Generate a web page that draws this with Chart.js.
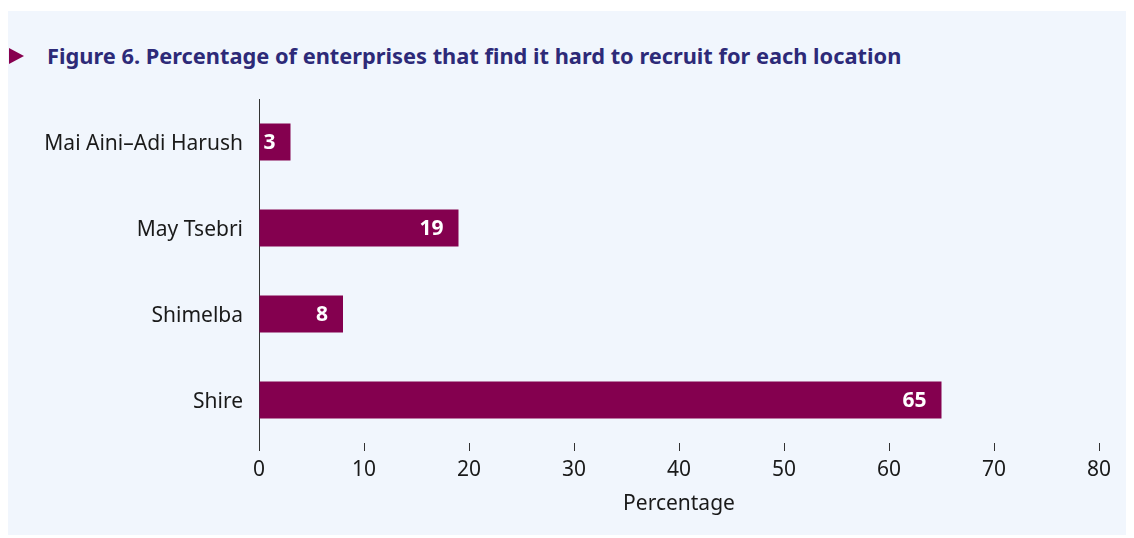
<!DOCTYPE html>
<html>
<head>
<meta charset="utf-8">
<script src="https://cdn.jsdelivr.net/npm/chart.js@4.4.0/dist/chart.umd.min.js"></script>
<style>
  html, body { margin: 0; padding: 0; background: #ffffff; }
  #panel {
    position: absolute; left: 8px; top: 11px; width: 1118px; height: 524px;
    background: #f1f6fd;
  }
  #marker {
    position: absolute; left: 1px; top: 37px; width: 0; height: 0;
    border-top: 8px solid transparent; border-bottom: 8px solid transparent;
    border-left: 15px solid #87004f;
  }
  #title {
    position: absolute; left: 39px; top: 30px; white-space: nowrap;
    font-family: "Noto Sans", sans-serif; font-weight: bold; font-size: 21.8px;
    color: #2d2a78;
  }
  #chartBox { position: absolute; left: 0; top: 0; width: 1118px; height: 524px; }
</style>
</head>
<body>
<div id="panel">
  <div id="marker"></div>
  <div id="title">Figure 6. Percentage of enterprises that find it hard to recruit for each location</div>
  <div id="chartBox"><canvas id="chart"></canvas></div>
</div>
<script>
const locations = ['Mai Aini\u2013Adi Harush', 'May Tsebri', 'Shimelba', 'Shire'];
const hardToRecruit = [3, 19, 8, 65];
const xTicks = [0, 10, 20, 30, 40, 50, 60, 70, 80];

// write the value inside the end of each bar
const barLabels = {
  id: 'barLabels',
  afterDatasetsDraw(chart) {
    const ctx = chart.ctx;
    const meta = chart.getDatasetMeta(0);
    ctx.save();
    ctx.fillStyle = '#ffffff';
    ctx.font = 'bold 21px "Noto Sans"';
    ctx.textAlign = 'right';
    ctx.textBaseline = 'middle';
    meta.data.forEach((bar, i) => {
      ctx.fillText(String(hardToRecruit[i]), bar.x - 15, bar.y + 1);
    });
    ctx.restore();
  }
};

new Chart(document.getElementById('chart'), {
  type: 'bar',
  data: {
    labels: locations,
    datasets: [{
      data: hardToRecruit,
      backgroundColor: '#84004f',
      borderWidth: 0,
      categoryPercentage: 1,
      barPercentage: 0.43
    }]
  },
  options: {
    indexAxis: 'y',
    responsive: true,
    maintainAspectRatio: false,
    animation: false,
    layout: { padding: { left: 0, right: 27, top: 88, bottom: 14 } },
    plugins: { legend: { display: false }, tooltip: { enabled: false } },
    scales: {
      x: {
        min: 0,
        max: 80,
        afterBuildTicks: axis => { axis.ticks = xTicks.map(v => ({ value: v })); },
        afterFit: axis => { axis.height = 78; },
        border: { display: false },
        grid: { drawOnChartArea: false, drawTicks: true, tickLength: 8, color: '#333333' },
        ticks: {
          color: '#1a1a1a',
          padding: 6,
          font: { family: 'Noto Sans', size: 21 }
        },
        title: {
          display: true,
          text: 'Percentage',
          color: '#1a1a1a',
          font: { family: 'Noto Sans', size: 21 }
        }
      },
      y: {
        afterFit: axis => { axis.width = 251; },
        border: { display: true, color: '#333333', width: 1 },
        grid: { display: false, drawTicks: false, tickLength: 0 },
        ticks: {
          color: '#1a1a1a',
          padding: 16,
          labelOffset: 2,
          font: { family: 'Noto Sans', size: 21 }
        }
      }
    }
  },
  plugins: [barLabels]
});
</script>
</body>
</html>
